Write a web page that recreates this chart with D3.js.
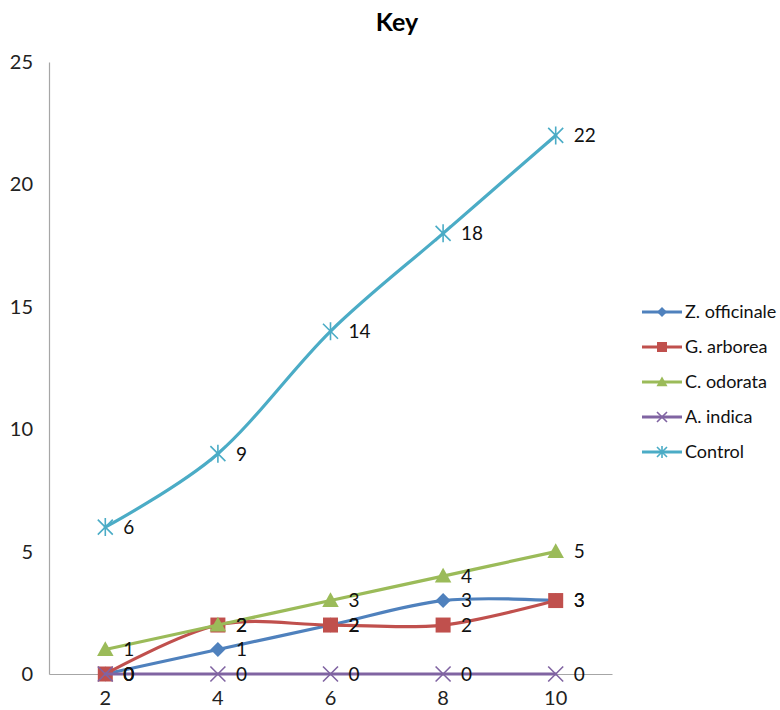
<!DOCTYPE html>
<html>
<head>
<meta charset="utf-8">
<script src="https://cdn.jsdelivr.net/npm/d3@7/dist/d3.min.js"></script>
<style>
  html, body { margin: 0; padding: 0; background: #fff; }
  svg { display: block; font-family: Lato, "Open Sans", sans-serif; }
</style>
</head>
<body>
<svg id="chart" width="780" height="710"></svg>
<script>
// Days on x, counts on y
const categories = ["2", "4", "6", "8", "10"];
const zOfficinale = [0, 1, 2, 3, 3];
const gArborea = [0, 2, 2, 2, 3];
const cOdorata = [1, 2, 3, 4, 5];
const aIndica = [0, 0, 0, 0, 0];
const control = [6, 9, 14, 18, 22];
const yTicks = [0, 5, 10, 15, 20, 25];
const seriesNames = ["Z. officinale", "G. arborea", "C. odorata", "A. indica", "Control"];

const series = [
  { name: seriesNames[0], values: zOfficinale, color: "#4F81BD", marker: "diamond" },
  { name: seriesNames[1], values: gArborea, color: "#C0504D", marker: "square" },
  { name: seriesNames[2], values: cOdorata, color: "#9BBB59", marker: "triangle" },
  { name: seriesNames[3], values: aIndica, color: "#8064A2", marker: "cross" },
  { name: seriesNames[4], values: control, color: "#4BACC6", marker: "star" }
];

const svg = d3.select("#chart");
const plot = { left: 49, right: 612, top: 62, bottom: 674 };

const x = d3.scaleBand().domain(categories).range([plot.left, plot.right]);
const y = d3.scaleLinear().domain([0, 25]).range([plot.bottom, plot.top]);
const cx = c => x(c) + x.bandwidth() / 2;

// Title
svg.append("text")
  .attr("x", 397).attr("y", 31)
  .attr("text-anchor", "middle")
  .attr("font-size", 25).attr("font-weight", "bold")
  .attr("fill", "#000")
  .text("Key");

// Axes
const yAxis = d3.axisLeft(y).tickValues(yTicks).tickSize(0).tickPadding(16);
const gy = svg.append("g").attr("transform", `translate(${plot.left},0)`).call(yAxis);
gy.select(".domain").attr("stroke", "#a6a6a6").attr("stroke-width", 1.2);
gy.selectAll("text").attr("font-size", 20).attr("fill", "#222").attr("font-family", "Lato, sans-serif");

const xAxis = d3.axisBottom(x).tickSize(0).tickPadding(17);
const gx = svg.append("g").attr("transform", `translate(0,${plot.bottom})`).call(xAxis);
gx.select(".domain").attr("stroke", "#a6a6a6").attr("stroke-width", 1.2);
gx.selectAll("text").attr("font-size", 20).attr("fill", "#222").attr("font-family", "Lato, sans-serif");

// Marker shapes
function drawMarker(g, type, color, s) {
  if (type === "diamond") {
    g.append("path").attr("d", `M0,${-s}L${s},0L0,${s}L${-s},0Z`).attr("fill", color);
  } else if (type === "square") {
    g.append("rect").attr("x", -s).attr("y", -s).attr("width", 2 * s).attr("height", 2 * s).attr("fill", color);
  } else if (type === "triangle") {
    g.append("path").attr("d", `M0,${-s * 1.1}L${s * 1.1},${s * 0.85}L${-s * 1.1},${s * 0.85}Z`).attr("fill", color);
  } else if (type === "cross") {
    g.append("path").attr("d", `M${-s},${-s}L${s},${s}M${-s},${s}L${s},${-s}`)
      .attr("stroke", color).attr("stroke-width", 1.6).attr("fill", "none");
  } else if (type === "star") {
    g.append("path").attr("d", `M${-s},${-s}L${s},${s}M${-s},${s}L${s},${-s}M0,${-s * 1.2}L0,${s * 1.2}`)
      .attr("stroke", color).attr("stroke-width", 1.6).attr("fill", "none");
  }
}

const markerSize = { diamond: 7.5, square: 7.5, triangle: 7.5, cross: 7.5, star: 7.5 };

const line = d3.line()
  .x((d, i) => cx(categories[i]))
  .y(d => y(d))
  .curve(d3.curveCatmullRom.alpha(0));

// Series lines, markers and value labels
series.forEach(s => {
  const g = svg.append("g");
  g.append("path")
    .datum(s.values)
    .attr("d", line)
    .attr("fill", "none")
    .attr("stroke", s.color)
    .attr("stroke-width", 3.2)
    .attr("stroke-linejoin", "round")
    .attr("stroke-linecap", "round");
  s.values.forEach((v, i) => {
    const mg = g.append("g").attr("transform", `translate(${cx(categories[i])},${y(v)})`);
    drawMarker(mg, s.marker, s.color, markerSize[s.marker]);
  });
});

series.forEach(s => {
  s.values.forEach((v, i) => {
    svg.append("text")
      .attr("x", cx(categories[i]) + 18)
      .attr("y", y(v))
      .attr("dy", "0.36em")
      .attr("font-size", 19)
      .attr("fill", "#111")
      .text(v);
  });
});

// Legend
const legend = svg.append("g").attr("transform", "translate(642,312)");
series.forEach((s, i) => {
  const row = legend.append("g").attr("transform", `translate(0,${i * 35})`);
  row.append("line").attr("x1", 0).attr("x2", 40).attr("y1", 0).attr("y2", 0)
    .attr("stroke", s.color).attr("stroke-width", 3.2);
  const mg = row.append("g").attr("transform", "translate(20,0)");
  drawMarker(mg, s.marker, s.color, 5);
  row.append("text").attr("x", 43).attr("y", 0).attr("dy", "0.36em")
    .attr("font-size", 18).attr("fill", "#111").text(s.name);
});
</script>
</body>
</html>
